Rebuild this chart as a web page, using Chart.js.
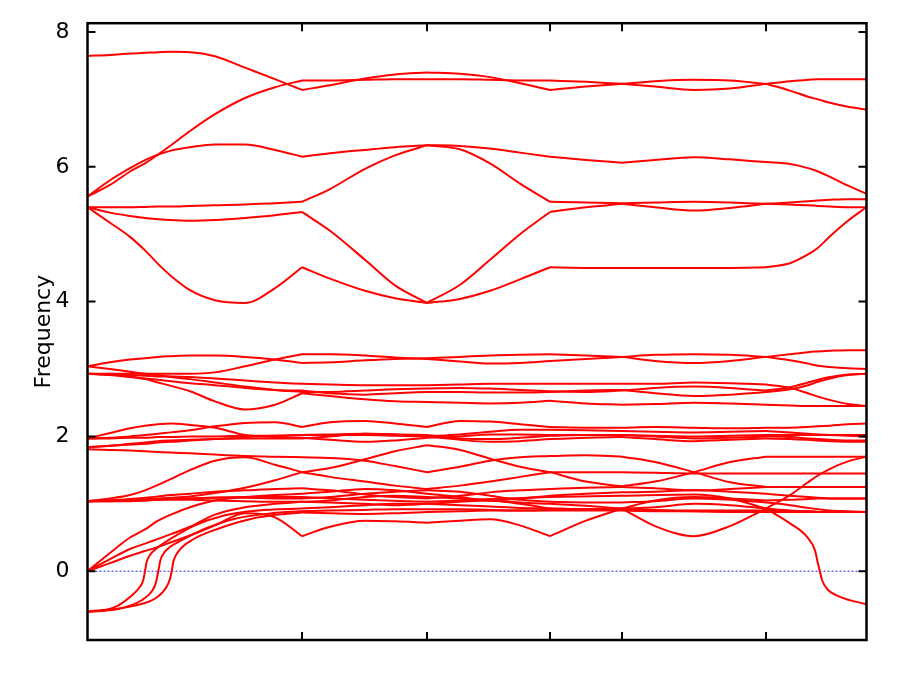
<!DOCTYPE html>
<html>
<head>
<meta charset="utf-8">
<script src="https://cdn.jsdelivr.net/npm/chart.js@4"></script>
<style>
  html, body { margin: 0; padding: 0; background: #fff; }
</style>
</head>
<body>
<canvas id="chart" width="900" height="675"></canvas>
<script>
// path coordinate of the high-symmetry points (axis has no labels)
const HS_POINTS = [0, 2.145, 3.395, 4.625, 5.345, 6.785, 7.79];
const Y_TICKS = [0, 2, 4, 6, 8];

// shared k grid
const K = [0, 0.225, 0.425, 0.575, 0.705, 0.835, 1.025, 1.275, 1.575, 1.875, 2.145,
  2.425, 2.775, 3.075, 3.395,
  3.725, 4.025, 4.325, 4.625,
  4.985, 5.345,
  5.675, 6.065, 6.425, 6.785,
  7.025, 7.205, 7.305, 7.425, 7.605, 7.79];

// upper bands
const T1 = [7.645, 7.66, 7.68, 7.69, 7.70, 7.705, 7.70, 7.64, 7.47, 7.30, 7.14, 7.21, 7.31, 7.37, 7.40, 7.38, 7.33, 7.24, 7.14, 7.19, 7.23, 7.27, 7.29, 7.28, 7.23, 7.13, 7.04, 7.00, 6.95, 6.89, 6.85];
const T2 = [5.56, 5.73, 5.93, 6.05, 6.18, 6.32, 6.53, 6.78, 7.02, 7.18, 7.28, 7.28, 7.29, 7.30, 7.30, 7.30, 7.29, 7.28, 7.28, 7.26, 7.23, 7.19, 7.14, 7.16, 7.23, 7.27, 7.29, 7.30, 7.30, 7.30, 7.30];
const S1 = [5.56, 5.80, 5.98, 6.10, 6.18, 6.24, 6.29, 6.33, 6.33, 6.25, 6.15, 6.20, 6.25, 6.29, 6.32, 6.31, 6.27, 6.21, 6.15, 6.10, 6.06, 6.10, 6.14, 6.11, 6.07, 6.04, 5.98, 5.93, 5.85, 5.72, 5.60];
const S2 = [5.40, 5.40, 5.40, 5.405, 5.41, 5.41, 5.42, 5.43, 5.44, 5.46, 5.48, 5.67, 5.97, 6.17, 6.32, 6.26, 6.05, 5.75, 5.48, 5.47, 5.46, 5.47, 5.48, 5.47, 5.45, 5.47, 5.49, 5.50, 5.51, 5.52, 5.52];
const S3 = [5.40, 5.32, 5.27, 5.24, 5.22, 5.21, 5.20, 5.21, 5.24, 5.28, 5.33, 5.05, 4.62, 4.24, 3.98, 4.25, 4.62, 5.00, 5.33, 5.40, 5.45, 5.40, 5.35, 5.39, 5.45, 5.44, 5.43, 5.42, 5.41, 5.40, 5.40];
const S4 = [5.40, 5.17, 4.96, 4.76, 4.56, 4.38, 4.17, 4.02, 3.98, 4.20, 4.51, 4.34, 4.16, 4.05, 3.98, 4.04, 4.16, 4.33, 4.51, 4.50, 4.50, 4.50, 4.50, 4.50, 4.51, 4.57, 4.70, 4.80, 4.97, 5.20, 5.40];

// bands between 2.4 and 3.3
const MA = [3.04, 3.10, 3.14, 3.16, 3.18, 3.19, 3.20, 3.20, 3.18, 3.14, 3.09, 3.10, 3.13, 3.15, 3.16, 3.18, 3.20, 3.21, 3.22, 3.20, 3.18, 3.12, 3.09, 3.12, 3.18, 3.22, 3.25, 3.26, 3.27, 3.28, 3.28];
const MB = [2.93, 2.93, 2.93, 2.93, 2.93, 2.93, 2.93, 2.95, 3.04, 3.14, 3.22, 3.22, 3.20, 3.17, 3.15, 3.11, 3.08, 3.09, 3.12, 3.15, 3.18, 3.21, 3.22, 3.21, 3.18, 3.13, 3.08, 3.05, 3.03, 3.01, 3.00];
const MC = [3.04, 3.00, 2.96, 2.93, 2.91, 2.88, 2.85, 2.80, 2.74, 2.69, 2.66, 2.66, 2.68, 2.70, 2.71, 2.72, 2.71, 2.69, 2.67, 2.66, 2.68, 2.72, 2.74, 2.72, 2.68, 2.73, 2.80, 2.84, 2.88, 2.92, 2.93];
const MD = [2.93, 2.92, 2.89, 2.85, 2.80, 2.75, 2.67, 2.52, 2.40, 2.47, 2.64, 2.60, 2.55, 2.52, 2.51, 2.50, 2.49, 2.50, 2.53, 2.49, 2.47, 2.48, 2.50, 2.49, 2.47, 2.46, 2.45, 2.45, 2.45, 2.45, 2.45];
const ME = [2.93, 2.92, 2.91, 2.90, 2.89, 2.89, 2.88, 2.86, 2.83, 2.80, 2.78, 2.77, 2.76, 2.76, 2.76, 2.77, 2.78, 2.78, 2.78, 2.78, 2.78, 2.78, 2.80, 2.79, 2.77, 2.72, 2.64, 2.59, 2.54, 2.48, 2.45];
const MF = [2.93, 2.91, 2.88, 2.86, 2.84, 2.82, 2.79, 2.76, 2.72, 2.69, 2.68, 2.64, 2.62, 2.64, 2.66, 2.66, 2.65, 2.65, 2.66, 2.68, 2.69, 2.64, 2.60, 2.62, 2.66, 2.70, 2.76, 2.81, 2.86, 2.91, 2.93];

// bands between 1.5 and 2.3
const G1 = [1.97, 2.05, 2.12, 2.16, 2.18, 2.19, 2.17, 2.13, 2.02, 1.99, 1.98, 1.95, 1.92, 1.94, 1.98, 2.00, 2.03, 2.03, 2.02, 2.02, 2.02, 2.01, 2.00, 2.01, 2.02, 2.02, 2.02, 2.02, 2.02, 2.02, 2.02];
const G2 = [1.97, 1.98, 2.00, 2.02, 2.04, 2.06, 2.09, 2.15, 2.20, 2.21, 2.14, 2.21, 2.23, 2.19, 2.14, 2.23, 2.22, 2.18, 2.14, 2.13, 2.13, 2.14, 2.13, 2.12, 2.13, 2.13, 2.14, 2.15, 2.16, 2.18, 2.19];
const G3 = [1.84, 1.86, 1.88, 1.89, 1.91, 1.92, 1.94, 1.96, 1.99, 2.01, 2.02, 2.03, 2.04, 2.03, 2.02, 1.97, 1.96, 1.98, 2.01, 2.02, 2.02, 2.00, 1.97, 1.98, 2.00, 1.99, 1.97, 1.96, 1.95, 1.94, 1.94];
const G4 = [1.97, 1.97, 1.98, 1.98, 1.99, 1.99, 2.00, 2.00, 2.01, 2.01, 2.02, 2.02, 2.02, 2.01, 2.00, 2.03, 2.07, 2.10, 2.10, 2.09, 2.08, 2.07, 2.06, 2.07, 2.08, 2.06, 2.04, 2.03, 2.02, 2.01, 2.00];
const G5 = [1.84, 1.86, 1.89, 1.91, 1.93, 1.94, 1.95, 1.96, 1.97, 1.97, 1.97, 2.00, 2.04, 2.03, 2.00, 1.95, 1.92, 1.93, 1.96, 1.98, 1.99, 1.96, 1.93, 1.95, 1.97, 1.96, 1.95, 1.94, 1.93, 1.92, 1.92];
const G6 = [1.81, 1.80, 1.79, 1.78, 1.77, 1.76, 1.75, 1.73, 1.71, 1.70, 1.69, 1.68, 1.64, 1.56, 1.47, 1.55, 1.64, 1.69, 1.71, 1.72, 1.70, 1.62, 1.47, 1.32, 1.25, 1.25, 1.25, 1.25, 1.25, 1.25, 1.25];

// low bands
const L1 = [1.04, 1.08, 1.13, 1.20, 1.28, 1.37, 1.50, 1.64, 1.69, 1.58, 1.47, 1.53, 1.66, 1.78, 1.87, 1.80, 1.67, 1.55, 1.47, 1.33, 1.26, 1.33, 1.47, 1.62, 1.70, 1.70, 1.70, 1.70, 1.70, 1.70, 1.70];
const L2 = [1.04, 1.05, 1.06, 1.07, 1.08, 1.09, 1.11, 1.16, 1.24, 1.35, 1.47, 1.40, 1.33, 1.27, 1.22, 1.27, 1.33, 1.40, 1.47, 1.47, 1.47, 1.46, 1.45, 1.45, 1.45, 1.45, 1.45, 1.45, 1.45, 1.45, 1.45];
const A1 = [0, 0.27, 0.50, 0.62, 0.75, 0.84, 0.95, 1.05, 1.10, 1.13, 1.15, 1.18, 1.22, 1.20, 1.15, 1.10, 1.05, 1.08, 1.12, 1.15, 1.17, 1.18, 1.20, 1.18, 1.15, 1.12, 1.10, 1.09, 1.08, 1.08, 1.08];
const A2 = [0, 0.18, 0.33, 0.41, 0.48, 0.55, 0.66, 0.84, 0.95, 1.00, 1.03, 1.02, 1.00, 0.98, 1.00, 1.03, 1.05, 1.00, 0.93, 0.92, 0.93, 0.95, 1.00, 0.98, 0.93, 0.90, 0.89, 0.88, 0.88, 0.88, 0.88];
const L3 = [0, 0.12, 0.23, 0.30, 0.36, 0.43, 0.53, 0.68, 0.86, 0.80, 0.52, 0.66, 0.75, 0.74, 0.72, 0.75, 0.77, 0.68, 0.52, 0.75, 0.93, 1.05, 1.10, 1.08, 1.05, 1.06, 1.07, 1.08, 1.08, 1.08, 1.08];
const L4 = [1.04, 1.04, 1.05, 1.05, 1.06, 1.06, 1.06, 1.05, 1.04, 1.03, 1.03, 1.05, 1.10, 1.12, 1.10, 1.08, 1.05, 1.02, 1.00, 0.97, 0.93, 0.67, 0.52, 0.67, 0.93, 1.13, 1.32, 1.42, 1.52, 1.63, 1.70];
const L5 = [1.04, 1.05, 1.07, 1.09, 1.11, 1.13, 1.15, 1.18, 1.20, 1.22, 1.23, 1.20, 1.14, 1.10, 1.08, 1.12, 1.17, 1.20, 1.22, 1.24, 1.25, 1.23, 1.20, 1.22, 1.25, 1.25, 1.25, 1.25, 1.25, 1.25, 1.25];
const L6 = [1.04, 1.04, 1.04, 1.05, 1.06, 1.07, 1.08, 1.09, 1.09, 1.08, 1.08, 1.10, 1.15, 1.18, 1.20, 1.18, 1.12, 1.06, 1.03, 1.02, 1.02, 1.04, 1.08, 1.06, 1.02, 0.98, 0.94, 0.92, 0.90, 0.89, 0.88];

// imaginary modes near the first point, own k sampling
const I1_K = [0, 0.175, 0.305, 0.442, 0.525, 0.558, 0.575, 0.592, 0.625, 0.692, 0.842, 1.075, 1.375, 1.705].concat(K.slice(10));
const I1 = [-0.60, -0.58, -0.51, -0.36, -0.23, -0.13, 0.0, 0.14, 0.24, 0.34, 0.49, 0.68, 0.83, 0.90, 0.93,
  0.95, 0.98, 1.00, 1.00, 0.98, 0.96, 0.94, 0.93, 0.92, 0.92, 0.91, 0.90, 0.90, 0.90, 0.89, 0.89, 0.88, 0.88, 0.88, 0.88];
const I2_K = [0, 0.305, 0.542, 0.642, 0.682, 0.708, 0.728, 0.775, 0.942, 1.175, 1.475, 1.842].concat(K.slice(10));
const I2 = [-0.60, -0.56, -0.43, -0.30, -0.18, 0.0, 0.16, 0.29, 0.46, 0.63, 0.78, 0.86, 0.89,
  0.90, 0.91, 0.92, 0.92, 0.92, 0.91, 0.90, 0.90, 0.90, 0.90, 0.89, 0.89, 0.89, 0.89, 0.88, 0.88, 0.88, 0.88, 0.88, 0.88];
const I3_K = [0, 0.475, 0.692, 0.792, 0.825, 0.842, 0.858, 0.908, 1.042, 1.305, 1.642, 1.975].concat(K.slice(10));
const I3 = [-0.60, -0.51, -0.39, -0.23, -0.11, 0.0, 0.14, 0.29, 0.46, 0.63, 0.78, 0.85, 0.87,
  0.86, 0.85, 0.86, 0.88, 0.89, 0.90, 0.90, 0.91, 0.91, 0.91, 0.90, 0.89, 0.88, 0.88, 0.88, 0.88, 0.88, 0.88, 0.88, 0.88];
// band that goes imaginary near the last point
const IR_K = [0, 0.425, 1.025, 1.575, 2.145, 2.775, 3.395, 4.025, 4.625, 5.345, 6.065, 6.425, 6.785, 7.025, 7.195, 7.275, 7.305, 7.325, 7.345, 7.395, 7.525, 7.79];
const IR = [1.04, 1.05, 1.08, 1.10, 1.10, 1.06, 1.03, 1.07, 1.10, 1.12, 1.14, 1.08, 0.93, 0.71, 0.51, 0.31, 0.11, -0.01, -0.13, -0.26, -0.38, -0.49];

const BANDS = [
  [K, T1], [K, T2], [K, S1], [K, S2], [K, S3], [K, S4],
  [K, MA], [K, MB], [K, MC], [K, MD], [K, ME], [K, MF],
  [K, G1], [K, G2], [K, G3], [K, G4], [K, G5], [K, G6],
  [K, L1], [K, L2], [K, A1], [K, A2], [K, L3], [K, L4], [K, L5], [K, L6],
  [I1_K, I1], [I2_K, I2], [I3_K, I3], [IR_K, IR]
];

// split a band at the high-symmetry points so kinks stay sharp
function segments(ks, fs) {
  const out = [];
  for (let s = 0; s < HS_POINTS.length - 1; s++) {
    const lo = HS_POINTS[s] - 1e-6, hi = HS_POINTS[s + 1] + 1e-6;
    const pts = [];
    ks.forEach((k, i) => { if (k >= lo && k <= hi) pts.push({ x: k, y: fs[i] }); });
    out.push(pts);
  }
  return out;
}

const datasets = [{
  data: [{ x: 0, y: 0 }, { x: 7.79, y: 0 }],
  borderColor: 'rgba(0,0,255,0.85)',
  borderWidth: 1,
  borderDash: [2, 2],
  pointRadius: 0,
  order: 1
}];
for (const [ks, fs] of BANDS) {
  for (const pts of segments(ks, fs)) {
    datasets.push({
      data: pts,
      borderColor: '#ff0000',
      borderWidth: 2,
      pointRadius: 0,
      cubicInterpolationMode: 'monotone',
      order: 0
    });
  }
}

const framePlugin = {
  id: 'frame',
  afterDatasetsDraw(chart) {
    const { ctx, chartArea: a, scales: { x, y } } = chart;
    ctx.save();
    ctx.strokeStyle = '#000';
    ctx.lineWidth = 2;
    ctx.beginPath();
    for (const k of HS_POINTS.slice(1, -1)) {
      const px = x.getPixelForValue(k);
      ctx.moveTo(px, a.bottom); ctx.lineTo(px, a.bottom - 8);
      ctx.moveTo(px, a.top); ctx.lineTo(px, a.top + 8);
    }
    for (const v of Y_TICKS) {
      const py = y.getPixelForValue(v);
      ctx.moveTo(a.left, py); ctx.lineTo(a.left + 8, py);
      ctx.moveTo(a.right, py); ctx.lineTo(a.right - 8, py);
    }
    ctx.stroke();
    ctx.lineWidth = 2.5;
    ctx.strokeRect(a.left, a.top, a.right - a.left, a.bottom - a.top);
    ctx.restore();
  }
};

new Chart(document.getElementById('chart'), {
  type: 'line',
  data: { datasets },
  options: {
    responsive: false,
    animation: false,
    events: [],
    parsing: false,
    layout: { padding: { left: 0, right: 33.5, top: 23, bottom: 35 } },
    plugins: { legend: { display: false }, tooltip: { enabled: false } },
    scales: {
      x: {
        type: 'linear', min: 0, max: 7.79,
        grid: { display: false }, border: { display: false },
        ticks: { display: false },
        afterFit(s) { s.height = 0; }
      },
      y: {
        min: -1.02, max: 8.13,
        grid: { display: false }, border: { display: false },
        afterBuildTicks(s) { s.ticks = Y_TICKS.map(v => ({ value: v })); },
        ticks: { font: { family: 'DejaVu Sans', size: 22 }, color: '#000', padding: 10 },
        title: {
          display: true, text: 'Frequency', color: '#000',
          font: { family: 'DejaVu Sans', size: 22 },
          padding: { top: 31, bottom: 0 }
        },
        afterFit(s) { s.width = 87.5; }
      }
    }
  },
  plugins: [framePlugin]
});
</script>
</body>
</html>
